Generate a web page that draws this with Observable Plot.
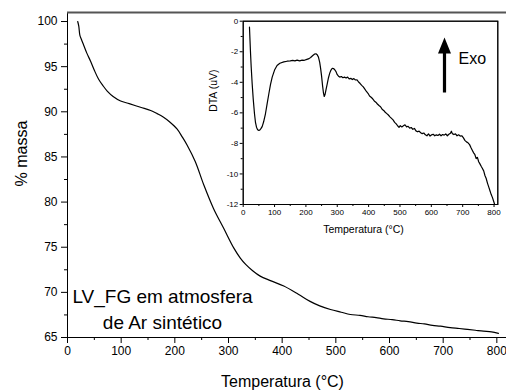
<!DOCTYPE html>
<html><head><meta charset="utf-8">
<script src="https://cdn.jsdelivr.net/npm/d3@7"></script>
<script src="https://cdn.jsdelivr.net/npm/@observablehq/plot@0.6"></script>
<style>
body{margin:0;background:#fff;}
#wrap{position:relative;width:506px;height:391px;}
#wrap svg{position:absolute;}
</style>
</head><body><div id="wrap"></div>
<script>
// Main TGA curve: temperature (°C) and % mass
const tgaTemp = [19,21,23,26,30,36,43,50,58,66,74,85,99,115,136,155,167,179,190,204,214,223,238,254,272,291,310,322,332,345,359,378,403,430,452,470,490,510,527,545,560,575,589,605,620,635,651,665,680,695,713,730,745,760,775,790,803];
const tgaMass = [100,99.5,98.5,98.0,97.4,96.5,95.6,94.6,93.6,92.9,92.3,91.7,91.2,90.9,90.5,90.15,89.8,89.4,88.9,88.1,87.2,86.3,84.5,81.9,79.3,77.1,74.9,73.8,73.1,72.4,71.8,71.3,70.7,69.8,69.0,68.5,68.1,67.8,67.55,67.45,67.3,67.2,67.07,66.98,66.85,66.75,66.6,66.5,66.35,66.25,66.1,66.0,65.9,65.8,65.7,65.62,65.45];

// Inset DTA curve: temperature (°C) and signal (uV)
const dtaTemp = [20,21,23,25.5,28.6,32,36,39,42.4,46,50,54,57,60.5,65,71,76,81.8,87,92.5,100,108,117,129.5,140,150,158,165,172,180,188,195,203,210,215,222,228,232,236,240,244,247,250,253,256,258.5,261,264,268,272,276,280,284,288,292,296,300,304,308,313,318,323,328,333,338,343,348,353,358,363,368,373,378,383,388,393,398,403,408,413,418,423,428,433,438,443,448,453,458,463,468,473,478,483,488,493,497,501,506,511,516,521,526,531,536,541,546,551,556,561,566,571,576,581,586,591,596,601,606,611,616,621,626,631,636,641,646,651,656,661,664,667,672,677,682,687,692,697,702,707,712,717,722,727,731,735,739,743,747,751,755,759,763,767,771,775,779,783,787,791,795,799,802];
const dtaSignal = [-0.39,-0.9,-1.92,-3.0,-4.1,-5.1,-6.06,-6.6,-6.94,-7.1,-7.15,-7.1,-7.02,-6.9,-6.6,-6.06,-5.45,-4.75,-4.15,-3.66,-3.2,-2.9,-2.75,-2.66,-2.62,-2.6,-2.56,-2.6,-2.55,-2.6,-2.55,-2.56,-2.5,-2.45,-2.38,-2.25,-2.15,-2.13,-2.2,-2.35,-2.7,-3.1,-3.6,-4.2,-4.7,-4.93,-4.8,-4.5,-4.1,-3.7,-3.4,-3.2,-3.08,-3.1,-3.18,-3.3,-3.5,-3.6,-3.66,-3.62,-3.7,-3.66,-3.72,-3.66,-3.78,-3.74,-3.82,-3.76,-3.85,-3.84,-3.98,-4.08,-4.2,-4.3,-4.45,-4.6,-4.72,-4.9,-4.98,-5.08,-5.22,-5.3,-5.42,-5.52,-5.6,-5.76,-5.84,-5.96,-6.05,-6.14,-6.26,-6.36,-6.46,-6.62,-6.72,-6.86,-6.95,-6.84,-6.92,-6.85,-6.78,-6.92,-6.88,-7.0,-6.96,-7.08,-7.02,-7.18,-7.24,-7.2,-7.3,-7.36,-7.32,-7.44,-7.5,-7.38,-7.52,-7.44,-7.4,-7.5,-7.44,-7.48,-7.4,-7.5,-7.42,-7.46,-7.38,-7.5,-7.4,-7.34,-7.2,-7.36,-7.42,-7.38,-7.5,-7.44,-7.52,-7.5,-7.62,-7.8,-7.9,-7.96,-8.08,-8.3,-8.46,-8.62,-8.74,-9.0,-8.92,-9.2,-9.34,-9.5,-9.64,-9.8,-10.1,-10.3,-10.6,-10.85,-11.1,-11.35,-11.55,-11.8,-12.0];

// Tick values
const mainXTicks = [0,100,200,300,400,500,600,700,800];
const mainXMinor = [50,150,250,350,450,550,650,750];
const mainYTicks = [65,70,75,80,85,90,95,100];
const mainYMinor = [67.5,72.5,77.5,82.5,87.5,92.5,97.5];
const insetXTicks = [0,100,200,300,400,500,600,700,800];
const insetXMinor = [50,150,250,350,450,550,650,750];
const insetYTicks = [0,-2,-4,-6,-8,-10,-12];
const insetYMinor = [-1,-3,-5,-7,-9,-11];

// Texts
const mainXLabel = "Temperatura (°C)";
const mainYLabel = "% massa";
const insetXLabel = "Temperatura (°C)";
const insetYLabel = "DTA (uV)";
const annotation = "LV_FG em atmosfera\nde Ar sintético";
const exoLabel = "Exo";

const tga = tgaTemp.map((t, i) => ({t, m: tgaMass[i]}));
const dta = dtaTemp.map((t, i) => ({t, s: dtaSignal[i]}));
const FONT = "'Liberation Sans', Arial, sans-serif";
const fmt = d => String(d);

const main = Plot.plot({
  width: 506, height: 391,
  marginTop: 12, marginLeft: 67, marginRight: 0, marginBottom: 54,
  x: {domain: [0, 818]},
  y: {domain: [65, 101]},
  style: {fontFamily: FONT, fontSize: "12px", background: "white", color: "black", overflow: "visible"},
  marks: [
    Plot.axisX(mainXTicks, {tickSize: 6, tickPadding: 3, fontSize: 12, label: null, tickFormat: fmt}),
    Plot.axisX(mainXMinor, {tickSize: 3, text: null, label: null}),
    Plot.axisY(mainYTicks, {tickSize: 6, tickPadding: 4, fontSize: 12, label: null, tickFormat: fmt}),
    Plot.axisY(mainYMinor, {tickSize: 3, text: null, label: null}),
    Plot.ruleY([65], {stroke: "black"}),
    Plot.ruleX([0], {stroke: "black"}),
    Plot.ruleY([101], {stroke: "#555", strokeWidth: 2}),
    Plot.line(tga, {x: "t", y: "m", stroke: "black", strokeWidth: 1.2, curve: "catmull-rom"}),
    Plot.text([annotation], {x: 177, y: 68.33, fontSize: 19, lineHeight: 1.37, textAnchor: "middle", lineAnchor: "middle", fill: "black"}),
    Plot.text([mainXLabel], {frameAnchor: "bottom", dx: -4.5, dy: 44, lineAnchor: "middle", fontSize: 16, fill: "black"}),
    Plot.text([mainYLabel], {frameAnchor: "left", dx: -46, dy: 11.5, rotate: -90, lineAnchor: "middle", fontSize: 16, fill: "black"})
  ]
});
main.style.left = "0px"; main.style.top = "0px";

const exoArrow = {
  draw(context, l) {
    const head = 16, hw = 6.5, sw = 1.6;
    context.moveTo(-sw, 0);
    context.lineTo(-sw, -l + head);
    context.lineTo(-hw, -l + head);
    context.lineTo(0, -l);
    context.lineTo(hw, -l + head);
    context.lineTo(sw, -l + head);
    context.lineTo(sw, 0);
    context.closePath();
  }
};

const inset = Plot.plot({
  width: 306, height: 240,
  marginTop: 20.7, marginLeft: 42.7, marginRight: 8.7, marginBottom: 36,
  x: {domain: [0, 812]},
  y: {domain: [-12, 0]},
  style: {fontFamily: FONT, fontSize: "8px", background: "transparent", color: "black", overflow: "visible"},
  marks: [
    Plot.frame({stroke: "black", fill: "white"}),
    Plot.axisX(insetXTicks, {tickSize: 3, tickPadding: 2, fontSize: 8, label: null, tickFormat: fmt}),
    Plot.axisX(insetXMinor, {tickSize: 2, text: null, label: null}),
    Plot.axisY(insetYTicks, {tickSize: 3, tickPadding: 2, fontSize: 8, label: null, tickFormat: fmt}),
    Plot.axisY(insetYMinor, {tickSize: 2, text: null, label: null}),
    Plot.frame({stroke: "black"}),
    Plot.line(dta, {x: "t", y: "s", stroke: "black", strokeWidth: 1.2}),
    Plot.vector([exoLabel], {x: 642, y: -4.67, length: 55, anchor: "start", shape: exoArrow, fill: "black", stroke: "none"}),
    Plot.text([exoLabel], {x: 687, y: -2.44, textAnchor: "start", lineAnchor: "middle", fontSize: 16, fill: "black"}),
    Plot.text([insetXLabel], {frameAnchor: "bottom", dx: -7, dy: 25, lineAnchor: "middle", fontSize: 10.5, fill: "black"}),
    Plot.text([insetYLabel], {frameAnchor: "left", dx: -29.7, dy: -1, rotate: -90, lineAnchor: "middle", fontSize: 10.5, fill: "black"})
  ]
});
inset.style.left = "200px"; inset.style.top = "0px";

const wrap = document.getElementById("wrap");
wrap.appendChild(main);
wrap.appendChild(inset);
</script>
</body></html>
